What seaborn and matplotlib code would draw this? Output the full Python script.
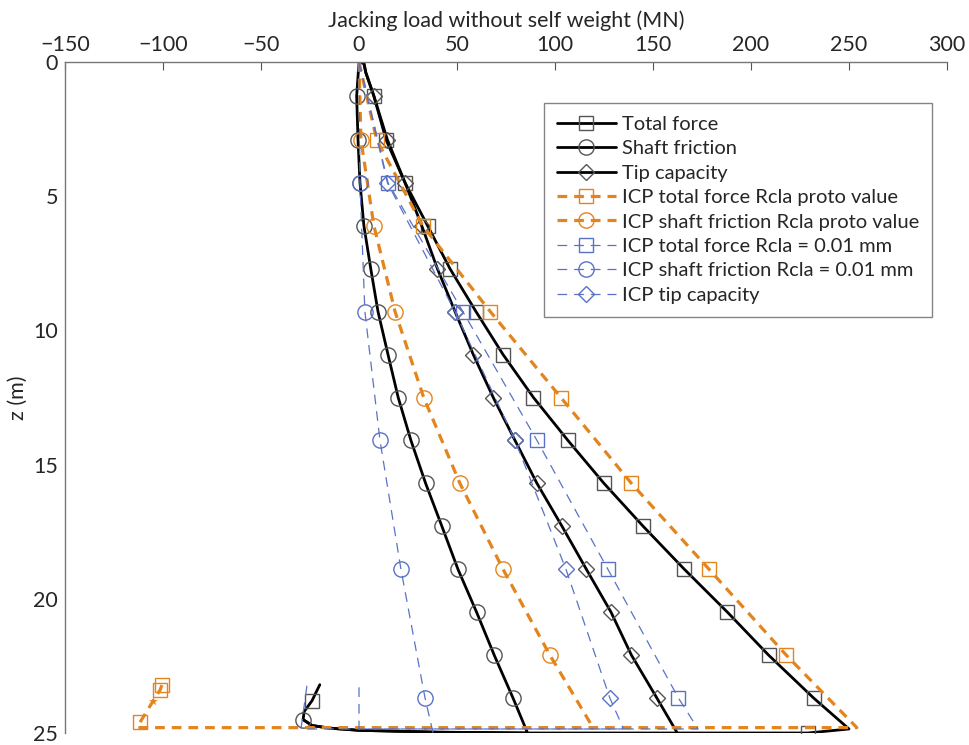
import matplotlib
matplotlib.use("Agg")
import matplotlib.pyplot as plt
import seaborn as sns

# ---------------- data (MN vs depth z in m) ----------------
tot_x = [0, 2.5, 3.5, 7.6, 13.8, 23.5, 35, 46.4, 59.7, 73.5, 89, 106.6, 125, 145, 166, 188, 209, 232, 250,
         229, 150, 86, 40, 0, -15, -24, -28.5, -28, -24, -20]
tot_z = [0, 0.05, 0.4, 1.27, 2.9, 4.5, 6.1, 7.7, 9.3, 10.9, 12.5, 14.1, 15.7, 17.3, 18.9, 20.5, 22.1, 23.7, 24.85,
         25.0, 25.0, 25.0, 24.97, 24.9, 24.82, 24.72, 24.5, 24.2, 23.8, 23.2]
tot_mk = list(range(3, 18)) + [19, 28]

sh_x = [0, -1.2, -0.5, 0.5, 2.5, 6, 9.7, 14.8, 20, 26.5, 34, 42.3, 50.5, 60, 69, 78.6, 86,
        40, 0, -15, -24, -28.5]
sh_z = [0, 1.27, 2.9, 4.5, 6.1, 7.7, 9.3, 10.9, 12.5, 14.1, 15.7, 17.3, 18.9, 20.5, 22.1, 23.7, 25.0,
        24.97, 24.9, 24.82, 24.72, 24.5]
sh_mk = list(range(1, 16)) + [21]

tip_x = [0, 2.5, 3.5, 7.6, 14.5, 23.5, 32, 40, 49, 58.3, 68.5, 79.6, 90.8, 103.6, 116, 128.6, 139, 152, 162]
tip_z = [0, 0.05, 0.4, 1.27, 2.9, 4.5, 6.1, 7.7, 9.3, 10.9, 12.5, 14.1, 15.7, 17.3, 18.9, 20.5, 22.1, 23.7, 24.95]
tip_mk = list(range(3, 18))

icp_tot_x = [0, 9, 32.5, 67, 103, 139, 178.6, 218, 254, -113, -111.7, -105, -101.5, -100.5]
icp_tot_z = [0, 2.9, 6.1, 9.3, 12.5, 15.7, 18.9, 22.1, 24.8, 24.8, 24.6, 23.8, 23.4, 23.2]
icp_tot_mk = list(range(1, 8)) + [10, 12, 13]
icp_star_x = [-105]
icp_star_z = [23.8]

icp_sh_x = [0, 1, 7.6, 18.4, 33, 51.5, 73.5, 97.4, 119.4]
icp_sh_z = [0, 2.9, 6.1, 9.3, 12.5, 15.7, 18.9, 22.1, 24.8]
icp_sh_mk = list(range(1, 8))

b_tot_x = [0, 14.8, 53, 90.8, 127, 163, 173, -29.6, -26.5]
b_tot_z = [0, 4.5, 9.3, 14.1, 18.9, 23.7, 24.85, 24.85, 23.2]
b_sh_x = [0, 0.5, 3, 10.7, 21.4, 33.7, 37.8]
b_sh_z = [0, 4.5, 9.3, 14.1, 18.9, 23.7, 25.0]
b_tip_x = [0, 14.5, 49, 79.6, 105.6, 128, 135, 0, 0]
b_tip_z = [0, 4.5, 9.3, 14.1, 18.9, 23.7, 24.85, 24.85, 23.2]
b_mk = list(range(1, 6))

labels = ["Total force", "Shaft friction", "Tip capacity",
          "ICP total force Rcla proto value", "ICP shaft friction Rcla proto value",
          "ICP total force Rcla = 0.01 mm", "ICP shaft friction Rcla = 0.01 mm", "ICP tip capacity"]
x_ticks = [-150, -100, -50, 0, 50, 100, 150, 200, 250, 300]
z_ticks = [0, 5, 10, 15, 20, 25]

# ---------------- style ----------------
sns.set_style("white")
plt.rcParams["font.family"] = ["Lato", "DejaVu Sans"]
plt.rcParams["lines.scale_dashes"] = False

BLACK = "#000000"
MKGRAY = "#555555"
ORANGE = "#E3851F"
BLUE = "#5A72C6"

fig = plt.figure(figsize=(9.7, 7.45), dpi=100)
ax = fig.add_axes([65 / 970, 12 / 745, (947 - 65) / 970, (733 - 62) / 745])


def draw(x, z, color, lw, dashes, marker, mk, mec, ms, label):
    sns.lineplot(x=x, y=z, sort=False, estimator=None, color=color, lw=lw,
                 marker=marker, markevery=mk, ms=ms, mfc="none", mec=mec, mew=1.0,
                 label=label, ax=ax)
    line = ax.lines[-1]
    if dashes is not None:
        line.set_dashes(dashes)
    return line


h = []
h.append(draw(tot_x, tot_z, BLACK, 2.0, None, "s", tot_mk, MKGRAY, 10, labels[0]))
h.append(draw(sh_x, sh_z, BLACK, 2.0, None, "o", sh_mk, MKGRAY, 11, labels[1]))
h.append(draw(tip_x, tip_z, BLACK, 2.0, None, "D", tip_mk, MKGRAY, 8, labels[2]))
h.append(draw(icp_tot_x, icp_tot_z, ORANGE, 2.3, (7, 5), "s", icp_tot_mk, ORANGE, 10, labels[3]))
h.append(draw(icp_sh_x, icp_sh_z, ORANGE, 2.3, (7, 5), "o", icp_sh_mk, ORANGE, 11, labels[4]))
h.append(draw(b_tot_x, b_tot_z, BLUE, 0.9, (7, 5), "s", b_mk, BLUE, 10, labels[5]))
h.append(draw(b_sh_x, b_sh_z, BLUE, 0.9, (7, 5), "o", b_mk, BLUE, 11, labels[6]))
h.append(draw(b_tip_x, b_tip_z, BLUE, 0.9, (7, 5), "D", b_mk, BLUE, 8, labels[7]))
sns.scatterplot(x=icp_star_x, y=icp_star_z, marker="*", s=80, color=ORANGE, ax=ax)

ax.set_xlim(-150, 300)
ax.set_ylim(25, 0)
ax.set_xticks(x_ticks)
ax.set_yticks(z_ticks)
ax.xaxis.tick_top()
ax.xaxis.set_label_position("top")
ax.set_xlabel("Jacking load without self weight (MN)", fontsize=15.5, labelpad=6)
ax.set_ylabel("z (m)", fontsize=15.5, labelpad=4)
ax.tick_params(axis="both", direction="in", length=6, width=0.8, color="#555555",
               labelsize=15.5, pad=5)
for s in ["right", "bottom"]:
    ax.spines[s].set_visible(False)
for s in ["top", "left"]:
    ax.spines[s].set_color("#777777")
    ax.spines[s].set_linewidth(1.0)

leg = ax.legend(handles=h, labels=labels, loc="upper right", bbox_to_anchor=(0.983, 0.939),
                fontsize=14.5, frameon=True, fancybox=False, handlelength=2.9,
                labelspacing=0.36, borderpad=0.65, handletextpad=0.3, borderaxespad=0)
leg.get_frame().set_edgecolor("#666666")
leg.get_frame().set_linewidth(1.0)

fig.savefig("out.png", dpi=100)
